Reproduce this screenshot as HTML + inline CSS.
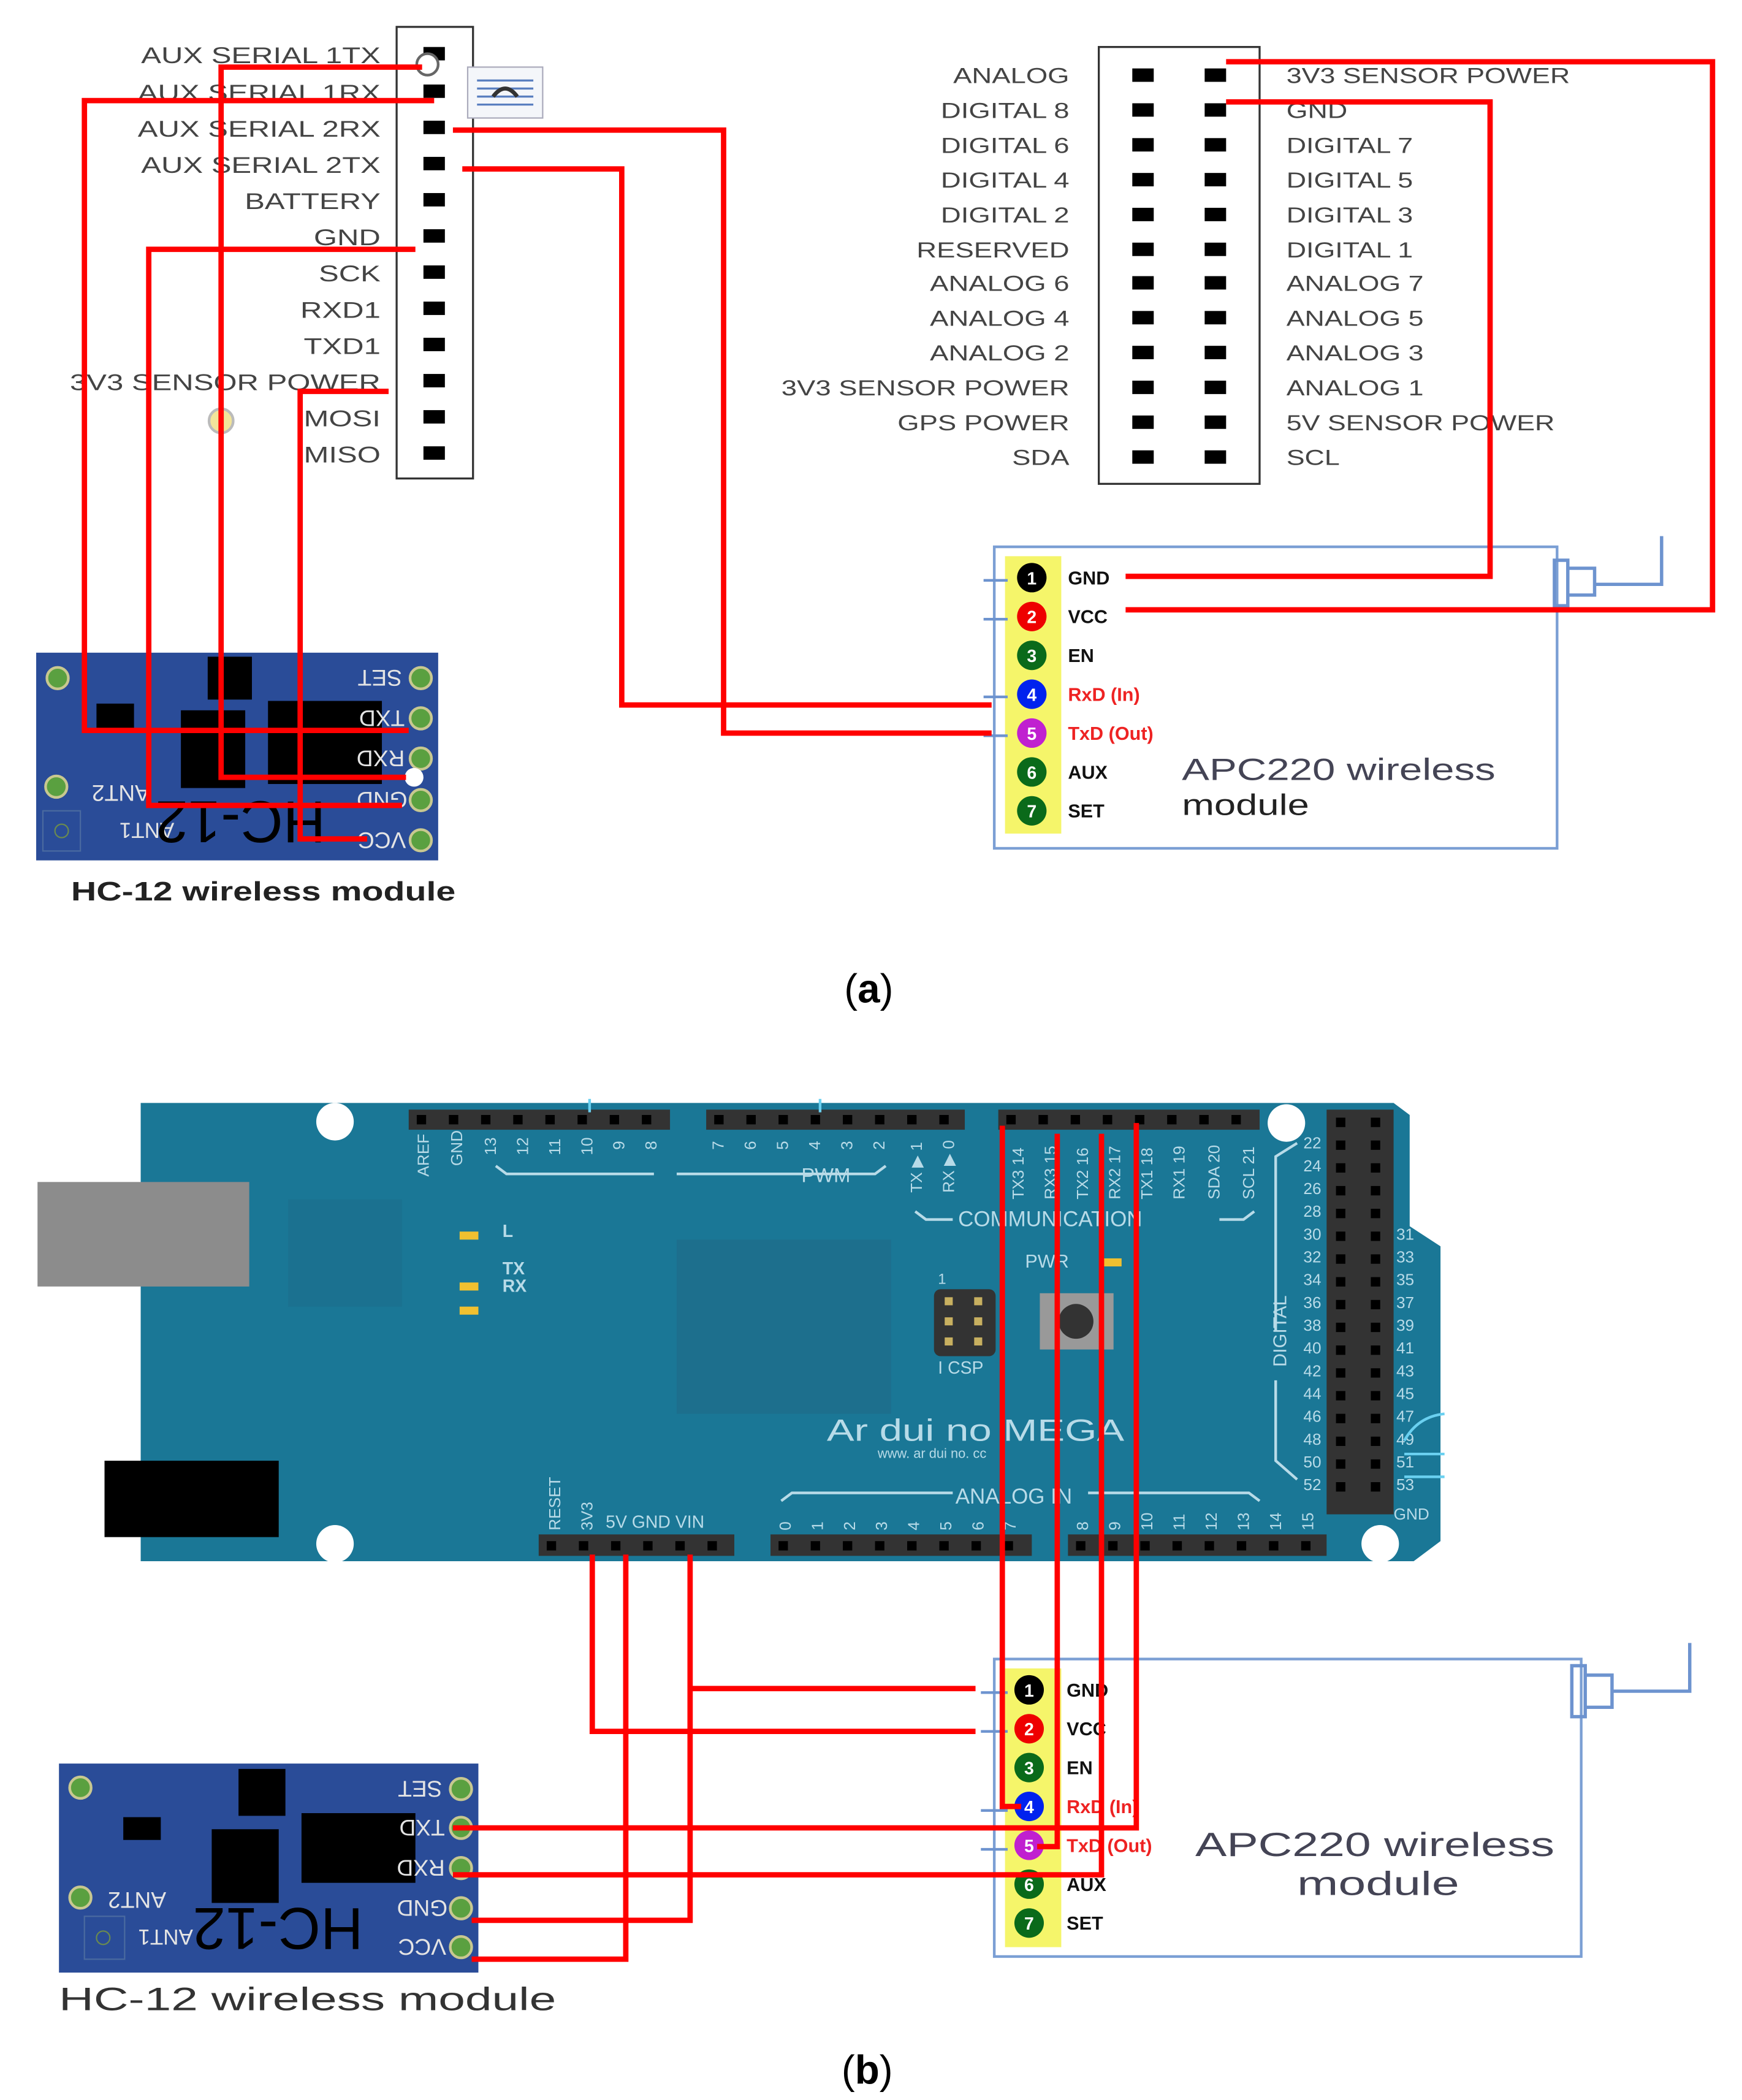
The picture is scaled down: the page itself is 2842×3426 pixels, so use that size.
<!DOCTYPE html>
<html><head><meta charset="utf-8"><style>
html,body{margin:0;padding:0;background:#fff;}
svg{display:block;}
text{font-family:"Liberation Sans",sans-serif;}
</style></head><body>
<svg width="2842" height="3426" viewBox="0 0 1300 1567" xmlns="http://www.w3.org/2000/svg">
<rect width="1300" height="1567" fill="#fff"/>

<!-- ===== (a) ===== -->
<rect x="296" y="20" width="57" height="337" fill="#fff" stroke="#333" stroke-width="1.5"/>
<g fill="#000">
<rect x="316" y="35" width="16" height="10"/><rect x="316" y="63" width="16" height="10"/>
<rect x="316" y="90" width="16" height="10"/><rect x="316" y="117" width="16" height="10"/>
<rect x="316" y="144" width="16" height="10"/><rect x="316" y="171" width="16" height="10"/>
<rect x="316" y="198" width="16" height="10"/><rect x="316" y="225" width="16" height="10"/>
<rect x="316" y="252" width="16" height="10"/><rect x="316" y="279" width="16" height="10"/>
<rect x="316" y="306" width="16" height="10"/><rect x="316" y="333" width="16" height="10"/>
</g>
<g font-size="17" fill="#444" text-anchor="end" transform="translate(284,0) scale(1.32,1) translate(-284,0)">
<text x="284" y="47">AUX SERIAL 1TX</text><text x="284" y="75">AUX SERIAL 1RX</text>
<text x="284" y="102">AUX SERIAL 2RX</text><text x="284" y="129">AUX SERIAL 2TX</text>
<text x="284" y="156">BATTERY</text><text x="284" y="183">GND</text>
<text x="284" y="210">SCK</text><text x="284" y="237">RXD1</text>
<text x="284" y="264">TXD1</text><text x="284" y="291">3V3 SENSOR POWER</text>
<text x="284" y="318">MOSI</text><text x="284" y="345">MISO</text>
</g>
<rect x="349" y="50" width="56" height="38" fill="#f4f6fa" stroke="#aab" stroke-width="1"/>
<g stroke="#5a7fc0" stroke-width="1.5"><line x1="356" y1="60" x2="398" y2="60"/><line x1="356" y1="66" x2="398" y2="66"/><line x1="356" y1="72" x2="398" y2="72"/><line x1="356" y1="78" x2="398" y2="78"/></g>
<path d="M368 72 Q377 60 386 72" stroke="#333" stroke-width="3" fill="none"/>

<rect x="820" y="35" width="120" height="326" fill="#fff" stroke="#333" stroke-width="1.5"/>
<g fill="#000">
<rect x="845" y="51" width="16" height="10"/><rect x="899" y="51" width="16" height="10"/>
<rect x="845" y="77" width="16" height="10"/><rect x="899" y="77" width="16" height="10"/>
<rect x="845" y="103" width="16" height="10"/><rect x="899" y="103" width="16" height="10"/>
<rect x="845" y="129" width="16" height="10"/><rect x="899" y="129" width="16" height="10"/>
<rect x="845" y="155" width="16" height="10"/><rect x="899" y="155" width="16" height="10"/>
<rect x="845" y="181" width="16" height="10"/><rect x="899" y="181" width="16" height="10"/>
<rect x="845" y="206" width="16" height="10"/><rect x="899" y="206" width="16" height="10"/>
<rect x="845" y="232" width="16" height="10"/><rect x="899" y="232" width="16" height="10"/>
<rect x="845" y="258" width="16" height="10"/><rect x="899" y="258" width="16" height="10"/>
<rect x="845" y="284" width="16" height="10"/><rect x="899" y="284" width="16" height="10"/>
<rect x="845" y="310" width="16" height="10"/><rect x="899" y="310" width="16" height="10"/>
<rect x="845" y="336" width="16" height="10"/><rect x="899" y="336" width="16" height="10"/>
</g>
<g font-size="16" fill="#444" text-anchor="end" transform="translate(798,0) scale(1.3,1) translate(-798,0)">
<text x="798" y="62">ANALOG</text><text x="798" y="88">DIGITAL 8</text><text x="798" y="114">DIGITAL 6</text>
<text x="798" y="140">DIGITAL 4</text><text x="798" y="166">DIGITAL 2</text><text x="798" y="192">RESERVED</text>
<text x="798" y="217">ANALOG 6</text><text x="798" y="243">ANALOG 4</text><text x="798" y="269">ANALOG 2</text>
<text x="798" y="295">3V3 SENSOR POWER</text><text x="798" y="321">GPS POWER</text><text x="798" y="347">SDA</text>
</g>
<g font-size="16" fill="#444" transform="translate(960,0) scale(1.28,1) translate(-960,0)">
<text x="960" y="62">3V3 SENSOR POWER</text><text x="960" y="88">GND</text><text x="960" y="114">DIGITAL 7</text>
<text x="960" y="140">DIGITAL 5</text><text x="960" y="166">DIGITAL 3</text><text x="960" y="192">DIGITAL 1</text>
<text x="960" y="217">ANALOG 7</text><text x="960" y="243">ANALOG 5</text><text x="960" y="269">ANALOG 3</text>
<text x="960" y="295">ANALOG 1</text><text x="960" y="321">5V SENSOR POWER</text><text x="960" y="347">SCL</text>
</g>

<rect x="742" y="408" width="420" height="225" fill="none" stroke="#7b9fd4" stroke-width="2"/>
<rect x="750" y="415" width="42" height="207" fill="#f5f56a"/>
<path d="M1160 418 h10 v34 h-10 z M1170 424 h20 v20 h-20 z M1190 436 h50 v-36" fill="none" stroke="#6d93cf" stroke-width="2.5"/>
<g stroke="#6d93cf" stroke-width="2"><line x1="734" y1="433" x2="752" y2="433"/><line x1="734" y1="462" x2="752" y2="462"/><line x1="734" y1="520" x2="752" y2="520"/><line x1="734" y1="549" x2="752" y2="549"/></g>
<g font-size="13" font-weight="bold" fill="#fff" text-anchor="middle">
<circle cx="770" cy="431" r="11" fill="#000"/><text x="770" y="436">1</text>
<circle cx="770" cy="460" r="11" fill="#e00"/><text x="770" y="465">2</text>
<circle cx="770" cy="489" r="11" fill="#0a6a1a"/><text x="770" y="494">3</text>
<circle cx="770" cy="518" r="11" fill="#0022ee"/><text x="770" y="523">4</text>
<circle cx="770" cy="547" r="11" fill="#c020d0"/><text x="770" y="552">5</text>
<circle cx="770" cy="576" r="11" fill="#0a6a1a"/><text x="770" y="581">6</text>
<circle cx="770" cy="605" r="11" fill="#0a6a1a"/><text x="770" y="610">7</text>
</g>
<g font-size="14" font-weight="bold" fill="#111">
<text x="797" y="436">GND</text><text x="797" y="465">VCC</text><text x="797" y="494">EN</text>
<text x="797" y="523" fill="#e22">RxD (In)</text><text x="797" y="552" fill="#e22">TxD (Out)</text>
<text x="797" y="581">AUX</text><text x="797" y="610">SET</text>
</g>
<text x="882" y="582" font-size="23" fill="#445" textLength="234" lengthAdjust="spacingAndGlyphs">APC220 wireless</text>
<text x="882" y="608" font-size="22" fill="#222" textLength="95" lengthAdjust="spacingAndGlyphs">module</text>

<!-- HC-12 (a) -->
<g>
<rect x="27" y="487" width="300" height="155" fill="#2a4c98"/>
<rect x="155" y="490" width="33" height="32" fill="#000"/>
<rect x="72" y="525" width="28" height="20" fill="#000"/>
<rect x="135" y="530" width="48" height="58" fill="#000"/>
<rect x="200" y="523" width="85" height="62" fill="#000"/>
<g fill="#5aa040" stroke="#c8c890" stroke-width="2">
<circle cx="43" cy="506" r="8"/><circle cx="42" cy="587" r="8"/>
<circle cx="314" cy="506" r="8"/><circle cx="314" cy="536" r="8"/><circle cx="314" cy="566" r="8"/><circle cx="314" cy="597" r="8"/><circle cx="314" cy="627" r="8"/>
</g>
<rect x="32" y="605" width="28" height="30" fill="none" stroke="#4a6aa0"/>
<circle cx="46" cy="620" r="5" fill="none" stroke="#6a8a50"/>
<g fill="#e4e4e4" font-size="17">
<text transform="rotate(180 285 506)" x="270" y="512">SET</text>
<text transform="rotate(180 285 536)" x="268" y="542">TXD</text>
<text transform="rotate(180 285 566)" x="268" y="572">RXD</text>
<text transform="rotate(180 285 597)" x="266" y="603">GND</text>
<text transform="rotate(180 285 627)" x="267" y="633">VCC</text>
</g>
<text transform="rotate(180 87 592)" x="62" y="598" font-size="17" fill="#e4e4e4">ANT2</text>
<text transform="rotate(180 105 620)" x="80" y="626" font-size="16" fill="#e4e4e4">ANT1</text>
<text transform="rotate(180 188 614)" x="133" y="630" font-size="44" fill="#000">HC-12</text>
</g>
<text x="53" y="672" font-size="20" fill="#222" font-weight="bold" textLength="287" lengthAdjust="spacingAndGlyphs">HC-12 wireless module</text>
<circle cx="165" cy="314" r="9" fill="#f2e49a" stroke="#bbb" stroke-width="2"/>
<circle cx="319" cy="48" r="8" fill="#fff" stroke="#666" stroke-width="2"/>
<circle cx="309" cy="580" r="7" fill="#fff"/>

<g stroke="#f00" stroke-width="4" fill="none">
<polyline points="315,50 165,50 165,580 303,580"/>
<polyline points="324,75 63,75 63,545 305,545"/>
<polyline points="310,186 111,186 111,601 300,601"/>
<polyline points="290,292 224,292 224,626 274,626"/>
<polyline points="338,97 540,97 540,547 740,547"/>
<polyline points="345,126 464,126 464,526 740,526"/>
<polyline points="915,46 1278,46 1278,455 840,455"/>
<polyline points="915,76 1112,76 1112,430 840,430"/>
</g>
<text x="630" y="748" font-size="30" font-family="Liberation Serif" fill="#000">(<tspan font-weight="bold">a</tspan>)</text>

<!-- ===== (b) Arduino ===== -->
<path d="M105 823 H1040 L1052 832 V915 L1075 930 V1150 L1055 1165 H105 Z" fill="#1a7796"/>
<rect x="28" y="882" width="158" height="78" fill="#8c8c8c"/>
<rect x="78" y="1090" width="130" height="57" fill="#000"/>
<rect x="215" y="895" width="85" height="80" fill="#1c6e8c" opacity="0.6"/>
<rect x="505" y="925" width="160" height="130" fill="#1d6f8d"/>
<g fill="#fff"><circle cx="250" cy="837" r="14"/><circle cx="960" cy="838" r="14"/><circle cx="250" cy="1152" r="14"/><circle cx="1030" cy="1152" r="14"/></g>
<g fill="#333">
<rect x="305" y="828" width="195" height="15"/><rect x="527" y="828" width="193" height="15"/><rect x="745" y="828" width="195" height="15"/>
<rect x="990" y="828" width="50" height="302"/>
<rect x="402" y="1145" width="146" height="16"/><rect x="575" y="1145" width="195" height="16"/><rect x="797" y="1145" width="193" height="16"/>
</g>
<g fill="#000">
<path d="M311 832h7v7h-7zM335 832h7v7h-7zM359 832h7v7h-7zM383 832h7v7h-7zM407 832h7v7h-7zM431 832h7v7h-7zM455 832h7v7h-7zM479 832h7v7h-7z"/>
<path d="M533 832h7v7h-7zM557 832h7v7h-7zM581 832h7v7h-7zM605 832h7v7h-7zM629 832h7v7h-7zM653 832h7v7h-7zM677 832h7v7h-7zM701 832h7v7h-7z"/>
<path d="M751 832h7v7h-7zM775 832h7v7h-7zM799 832h7v7h-7zM823 832h7v7h-7zM847 832h7v7h-7zM871 832h7v7h-7zM895 832h7v7h-7zM919 832h7v7h-7z"/>
<path d="M408 1150h7v7h-7zM432 1150h7v7h-7zM456 1150h7v7h-7zM480 1150h7v7h-7zM504 1150h7v7h-7zM528 1150h7v7h-7z"/>
<path d="M581 1150h7v7h-7zM605 1150h7v7h-7zM629 1150h7v7h-7zM653 1150h7v7h-7zM677 1150h7v7h-7zM701 1150h7v7h-7zM725 1150h7v7h-7zM749 1150h7v7h-7z"/>
<path d="M803 1150h7v7h-7zM827 1150h7v7h-7zM851 1150h7v7h-7zM875 1150h7v7h-7zM899 1150h7v7h-7zM923 1150h7v7h-7zM947 1150h7v7h-7zM971 1150h7v7h-7z"/>
<path d="M997 834h7v7h-7zM1023 834h7v7h-7zM997 851h7v7h-7zM1023 851h7v7h-7zM997 868h7v7h-7zM1023 868h7v7h-7zM997 885h7v7h-7zM1023 885h7v7h-7zM997 902h7v7h-7zM1023 902h7v7h-7zM997 919h7v7h-7zM1023 919h7v7h-7zM997 936h7v7h-7zM1023 936h7v7h-7zM997 953h7v7h-7zM1023 953h7v7h-7zM997 970h7v7h-7zM1023 970h7v7h-7zM997 987h7v7h-7zM1023 987h7v7h-7zM997 1004h7v7h-7zM1023 1004h7v7h-7zM997 1021h7v7h-7zM1023 1021h7v7h-7zM997 1038h7v7h-7zM1023 1038h7v7h-7zM997 1055h7v7h-7zM1023 1055h7v7h-7zM997 1072h7v7h-7zM1023 1072h7v7h-7zM997 1089h7v7h-7zM1023 1089h7v7h-7zM997 1106h7v7h-7zM1023 1106h7v7h-7z"/>
</g>
<g fill="#b8dbe8" font-size="12">
<text x="320" y="878" transform="rotate(-90 320 878)">AREF</text>
<text x="345" y="870" transform="rotate(-90 345 870)">GND</text>
<text x="370" y="862" transform="rotate(-90 370 862)">13</text><text x="394" y="862" transform="rotate(-90 394 862)">12</text>
<text x="418" y="862" transform="rotate(-90 418 862)">11</text><text x="442" y="862" transform="rotate(-90 442 862)">10</text>
<text x="466" y="858" transform="rotate(-90 466 858)">9</text><text x="490" y="858" transform="rotate(-90 490 858)">8</text>
<text x="540" y="858" transform="rotate(-90 540 858)">7</text><text x="564" y="858" transform="rotate(-90 564 858)">6</text>
<text x="588" y="858" transform="rotate(-90 588 858)">5</text><text x="612" y="858" transform="rotate(-90 612 858)">4</text>
<text x="636" y="858" transform="rotate(-90 636 858)">3</text><text x="660" y="858" transform="rotate(-90 660 858)">2</text>
<text x="688" y="890" transform="rotate(-90 688 890)">TX ▶ 1</text><text x="712" y="890" transform="rotate(-90 712 890)">RX ▶ 0</text>
<text x="764" y="895" transform="rotate(-90 764 895)">TX3 14</text><text x="788" y="895" transform="rotate(-90 788 895)">RX3 15</text>
<text x="812" y="895" transform="rotate(-90 812 895)">TX2 16</text><text x="836" y="895" transform="rotate(-90 836 895)">RX2 17</text>
<text x="860" y="895" transform="rotate(-90 860 895)">TX1 18</text><text x="884" y="895" transform="rotate(-90 884 895)">RX1 19</text>
<text x="910" y="895" transform="rotate(-90 910 895)">SDA 20</text><text x="936" y="895" transform="rotate(-90 936 895)">SCL 21</text>
<text x="418" y="1142" transform="rotate(-90 418 1142)">RESET</text><text x="442" y="1142" transform="rotate(-90 442 1142)">3V3</text>
<text x="452" y="1140" font-size="13">5V  GND VIN</text>
<text x="598" y="882" font-size="15">PWM</text>
<text x="715" y="915" font-size="16">COMMUNICATION</text>
<text x="765" y="946" font-size="14">PWR</text>
<text x="375" y="923" font-size="13" font-weight="bold">L</text>
<text x="375" y="951" font-size="13" font-weight="bold">TX</text>
<text x="375" y="964" font-size="13" font-weight="bold">RX</text>
<text x="700" y="958" font-size="11">1</text>
<text x="700" y="1025" font-size="13">I CSP</text>
<text x="617" y="1075" font-size="23" textLength="222" lengthAdjust="spacingAndGlyphs">Ar dui no   MEGA</text>
<text x="655" y="1088" font-size="10">www. ar dui no. cc</text>
<text x="713" y="1122" font-size="16">ANALOG IN</text>
<text x="960" y="1020" font-size="14" transform="rotate(-90 960 1020)">DIGITAL</text>
<text x="1040" y="1134" font-size="12">GND</text>
</g>
<g fill="#b8dbe8" font-size="12" text-anchor="end">
<text x="986" y="857">22</text><text x="986" y="874">24</text><text x="986" y="891">26</text><text x="986" y="908">28</text>
<text x="986" y="925">30</text><text x="986" y="942">32</text><text x="986" y="959">34</text><text x="986" y="976">36</text>
<text x="986" y="993">38</text><text x="986" y="1010">40</text><text x="986" y="1027">42</text><text x="986" y="1044">44</text>
<text x="986" y="1061">46</text><text x="986" y="1078">48</text><text x="986" y="1095">50</text><text x="986" y="1112">52</text>
</g>
<g fill="#b8dbe8" font-size="12">
<text x="1042" y="925">31</text><text x="1042" y="942">33</text><text x="1042" y="959">35</text><text x="1042" y="976">37</text>
<text x="1042" y="993">39</text><text x="1042" y="1010">41</text><text x="1042" y="1027">43</text><text x="1042" y="1044">45</text>
<text x="1042" y="1061">47</text><text x="1042" y="1078">49</text><text x="1042" y="1095">51</text><text x="1042" y="1112">53</text>
</g>
<g fill="#b8dbe8" font-size="12">
<text x="590" y="1142" transform="rotate(-90 590 1142)">0</text><text x="614" y="1142" transform="rotate(-90 614 1142)">1</text>
<text x="638" y="1142" transform="rotate(-90 638 1142)">2</text><text x="662" y="1142" transform="rotate(-90 662 1142)">3</text>
<text x="686" y="1142" transform="rotate(-90 686 1142)">4</text><text x="710" y="1142" transform="rotate(-90 710 1142)">5</text>
<text x="734" y="1142" transform="rotate(-90 734 1142)">6</text><text x="758" y="1142" transform="rotate(-90 758 1142)">7</text>
<text x="812" y="1142" transform="rotate(-90 812 1142)">8</text><text x="836" y="1142" transform="rotate(-90 836 1142)">9</text>
<text x="860" y="1142" transform="rotate(-90 860 1142)">10</text><text x="884" y="1142" transform="rotate(-90 884 1142)">11</text>
<text x="908" y="1142" transform="rotate(-90 908 1142)">12</text><text x="932" y="1142" transform="rotate(-90 932 1142)">13</text>
<text x="956" y="1142" transform="rotate(-90 956 1142)">14</text><text x="980" y="1142" transform="rotate(-90 980 1142)">15</text>
</g>
<g stroke="#b8dbe8" stroke-width="2" fill="none">
<path d="M370 870 l8 6 h110 M505 876 h148 l8 -6"/>
<path d="M683 904 l8 6 h20 M910 910 h18 l8 -6"/>
<path d="M583 1120 l8 -6 h120 M812 1114 h120 l8 6"/>
<path d="M968 853 l-16 10 v130 M952 1030 v60 l16 14"/>
</g>
<g fill="#f0c030"><rect x="343" y="919" width="14" height="6"/><rect x="343" y="957" width="14" height="6"/><rect x="343" y="975" width="14" height="6"/><rect x="823" y="939" width="14" height="6"/></g>
<rect x="697" y="962" width="46" height="50" rx="5" fill="#333"/>
<g fill="#c8b060"><rect x="705" y="968" width="6" height="6"/><rect x="727" y="968" width="6" height="6"/><rect x="705" y="983" width="6" height="6"/><rect x="727" y="983" width="6" height="6"/><rect x="705" y="998" width="6" height="6"/><rect x="727" y="998" width="6" height="6"/></g>
<rect x="776" y="965" width="55" height="42" fill="#999"/>
<circle cx="803" cy="986" r="13" fill="#333"/>
<g stroke="#6ad0f0" stroke-width="2"><line x1="440" y1="820" x2="440" y2="830"/><line x1="612" y1="820" x2="612" y2="830"/><path d="M1048 1075 q10 -18 30 -20 M1048 1085 h30 M1048 1102 h30" fill="none"/></g>

<!-- APC220 (b) -->
<rect x="742" y="1238" width="438" height="222" fill="none" stroke="#7b9fd4" stroke-width="2"/>
<rect x="750" y="1245" width="42" height="208" fill="#f5f56a"/>
<path d="M1173 1243 h10 v38 h-10 z M1183 1250 h20 v24 h-20 z M1203 1262 h58 v-36" fill="none" stroke="#6d93cf" stroke-width="2.5"/>
<g stroke="#6d93cf" stroke-width="2"><line x1="732" y1="1263" x2="752" y2="1263"/><line x1="732" y1="1292" x2="752" y2="1292"/><line x1="732" y1="1351" x2="752" y2="1351"/><line x1="732" y1="1380" x2="752" y2="1380"/></g>
<g font-size="13" font-weight="bold" fill="#fff" text-anchor="middle">
<circle cx="768" cy="1261" r="11" fill="#000"/><text x="768" y="1266">1</text>
<circle cx="768" cy="1290" r="11" fill="#e00"/><text x="768" y="1295">2</text>
<circle cx="768" cy="1319" r="11" fill="#0a6a1a"/><text x="768" y="1324">3</text>
<circle cx="768" cy="1348" r="11" fill="#0022ee"/><text x="768" y="1353">4</text>
<circle cx="768" cy="1377" r="11" fill="#c020d0"/><text x="768" y="1382">5</text>
<circle cx="768" cy="1406" r="11" fill="#0a6a1a"/><text x="768" y="1411">6</text>
<circle cx="768" cy="1435" r="11" fill="#0a6a1a"/><text x="768" y="1440">7</text>
</g>
<g font-size="14" font-weight="bold" fill="#111">
<text x="796" y="1266">GND</text><text x="796" y="1295">VCC</text><text x="796" y="1324">EN</text>
<text x="796" y="1353" fill="#e22">RxD (In)</text><text x="796" y="1382" fill="#e22">TxD (Out)</text>
<text x="796" y="1411">AUX</text><text x="796" y="1440">SET</text>
</g>
<text x="892" y="1385" font-size="25" fill="#445" textLength="268" lengthAdjust="spacingAndGlyphs">APC220 wireless</text>
<text x="968" y="1414" font-size="25" fill="#445" textLength="121" lengthAdjust="spacingAndGlyphs">module</text>

<!-- HC-12 (b) -->
<g>
<rect x="44" y="1316" width="313" height="156" fill="#2a4c98"/>
<rect x="178" y="1320" width="35" height="35" fill="#000"/>
<rect x="92" y="1356" width="28" height="17" fill="#000"/>
<rect x="158" y="1365" width="50" height="55" fill="#000"/>
<rect x="225" y="1353" width="85" height="52" fill="#000"/>
<g fill="#5aa040" stroke="#c8c890" stroke-width="2">
<circle cx="60" cy="1334" r="8"/><circle cx="60" cy="1416" r="8"/>
<circle cx="344" cy="1335" r="8"/><circle cx="344" cy="1364" r="8"/><circle cx="344" cy="1394" r="8"/><circle cx="344" cy="1424" r="8"/><circle cx="344" cy="1453" r="8"/>
</g>
<rect x="63" y="1430" width="30" height="32" fill="none" stroke="#4a6aa0"/>
<circle cx="77" cy="1446" r="5" fill="none" stroke="#6a8a50"/>
<g fill="#e4e4e4" font-size="17">
<text transform="rotate(180 315 1335)" x="300" y="1341">SET</text>
<text transform="rotate(180 315 1364)" x="298" y="1370">TXD</text>
<text transform="rotate(180 315 1394)" x="298" y="1400">RXD</text>
<text transform="rotate(180 315 1424)" x="296" y="1430">GND</text>
<text transform="rotate(180 315 1453)" x="297" y="1459">VCC</text>
</g>
<text transform="rotate(180 100 1418)" x="76" y="1424" font-size="17" fill="#e4e4e4">ANT2</text>
<text transform="rotate(180 120 1446)" x="96" y="1452" font-size="16" fill="#e4e4e4">ANT1</text>
<text transform="rotate(180 213 1440)" x="155" y="1456" font-size="44" fill="#000">HC-12</text>
</g>
<text x="44" y="1500" font-size="24" fill="#333" textLength="371" lengthAdjust="spacingAndGlyphs">HC-12 wireless module</text>

<g stroke="#f00" stroke-width="4" fill="none">
<polyline points="442,1160 442,1292 728,1292"/>
<polyline points="467,1160 467,1462 352,1462"/>
<polyline points="515,1160 515,1260 728,1260"/>
<polyline points="515,1260 515,1433 352,1433"/>
<polyline points="748,840 748,1348 762,1348"/>
<polyline points="789,846 789,1378 774,1378"/>
<polyline points="822,846 822,1399 338,1399"/>
<polyline points="848,838 848,1364 338,1364"/>
</g>
<text x="628" y="1555" font-size="30" font-family="Liberation Serif" fill="#000">(<tspan font-weight="bold">b</tspan>)</text>
</svg>
</body></html>
